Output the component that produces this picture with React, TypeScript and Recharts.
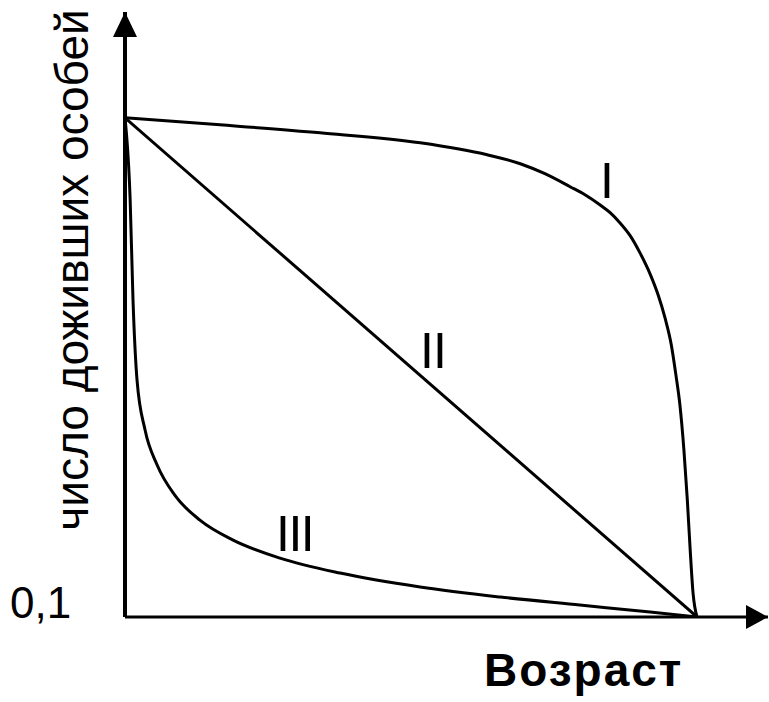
import { LineChart, Line, XAxis, YAxis, ReferenceLine, ReferenceDot } from 'recharts';

// Survival curves: x = age (% of max lifespan), y = survivors (% of start)
const typeI = [
  { x: 0, y: 100 },
  { x: 16.6, y: 98.6 },
  { x: 34.1, y: 97.0 },
  { x: 51.6, y: 95.0 },
  { x: 63.3, y: 92.6 },
  { x: 69.1, y: 90.8 },
  { x: 73.4, y: 88.8 },
  { x: 77.8, y: 86.2 },
  { x: 80.4, y: 84.6 },
  { x: 83.0, y: 82.6 },
  { x: 84.8, y: 81.0 },
  { x: 86.5, y: 79.0 },
  { x: 88.3, y: 76.4 },
  { x: 90.0, y: 73.0 },
  { x: 91.8, y: 68.7 },
  { x: 93.2, y: 64.5 },
  { x: 94.4, y: 59.9 },
  { x: 95.5, y: 54.5 },
  { x: 96.3, y: 48.5 },
  { x: 97.0, y: 42.5 },
  { x: 97.7, y: 33.5 },
  { x: 98.3, y: 23.4 },
  { x: 98.8, y: 13.4 },
  { x: 99.3, y: 4.8 },
  { x: 100, y: 0 },
];

const typeII = [
  { x: 0, y: 100 },
  { x: 100, y: 0 },
];

const typeIII = [
  { x: 0, y: 100 },
  { x: 0.9, y: 83.6 },
  { x: 1.4, y: 63.5 },
  { x: 2.1, y: 47.5 },
  { x: 3.5, y: 37.5 },
  { x: 5.6, y: 30.5 },
  { x: 8.7, y: 24.4 },
  { x: 13.1, y: 19.4 },
  { x: 18.9, y: 15.4 },
  { x: 27.1, y: 11.8 },
  { x: 37.6, y: 8.8 },
  { x: 51.6, y: 6.0 },
  { x: 65.6, y: 4.0 },
  { x: 79.5, y: 2.4 },
  { x: 91.8, y: 1.0 },
  { x: 100, y: 0 },
];

const X_MAX = 112.4;
const Y_MAX = 121.2;
const FONT = '"Liberation Sans", Arial, sans-serif';

const XArrow = ({ cx, cy }: { cx?: number; cy?: number }) => (
  <polygon points={`${cx},${cy} ${cx! - 22},${cy! - 12} ${cx! - 22},${cy! + 12}`} fill="#000" />
);

const YArrow = ({ cx, cy }: { cx?: number; cy?: number }) => (
  <polygon points={`${cx},${cy} ${cx! - 12},${cy! + 25} ${cx! + 12},${cy! + 25}`} fill="#000" />
);

export default function App() {
  return (
    <div style={{ position: 'absolute', left: 0, top: 0, width: 769, height: 702, background: '#fff' }}>
      <LineChart width={769} height={702} margin={{ top: 12, right: 1, bottom: 85, left: 125 }}>
        <XAxis type="number" dataKey="x" domain={[0, X_MAX]} hide allowDataOverflow />
        <YAxis type="number" dataKey="y" domain={[0, Y_MAX]} hide allowDataOverflow />
        <ReferenceLine x={0} stroke="#000" strokeWidth={4} />
        <ReferenceLine y={0} stroke="#000" strokeWidth={3} />
        <ReferenceDot x={X_MAX} y={0} shape={XArrow} />
        <ReferenceDot x={0} y={Y_MAX} shape={YArrow} />
        <Line data={typeI} dataKey="y" type="monotone" stroke="#000" strokeWidth={3} dot={false} isAnimationActive={false} />
        <Line data={typeII} dataKey="y" type="linear" stroke="#000" strokeWidth={3} dot={false} isAnimationActive={false} />
        <Line data={typeIII} dataKey="y" type="monotone" stroke="#000" strokeWidth={3} dot={false} isAnimationActive={false} />
        <text x={600} y={198} fontFamily={FONT} fontSize={50} fill="#000">I</text>
        <text x={420} y={368} fontFamily={FONT} fontSize={50} fill="#000" letterSpacing={-1}>II</text>
        <text x={276} y={551} fontFamily={FONT} fontSize={50} fill="#000" letterSpacing={-1.5}>III</text>
        <text x={10} y={618} fontFamily={FONT} fontSize={44} fill="#000">0,1</text>
        <text x={484} y={686} fontFamily={FONT} fontSize={46} fontWeight="bold" fill="#000" letterSpacing={2}>Возраст</text>
        <text
          x={88}
          y={270}
          transform="rotate(-90 88 270)"
          textAnchor="middle"
          fontFamily={FONT}
          fontSize={46}
          fill="#000"
        >
          число доживших особей
        </text>
      </LineChart>
    </div>
  );
}
